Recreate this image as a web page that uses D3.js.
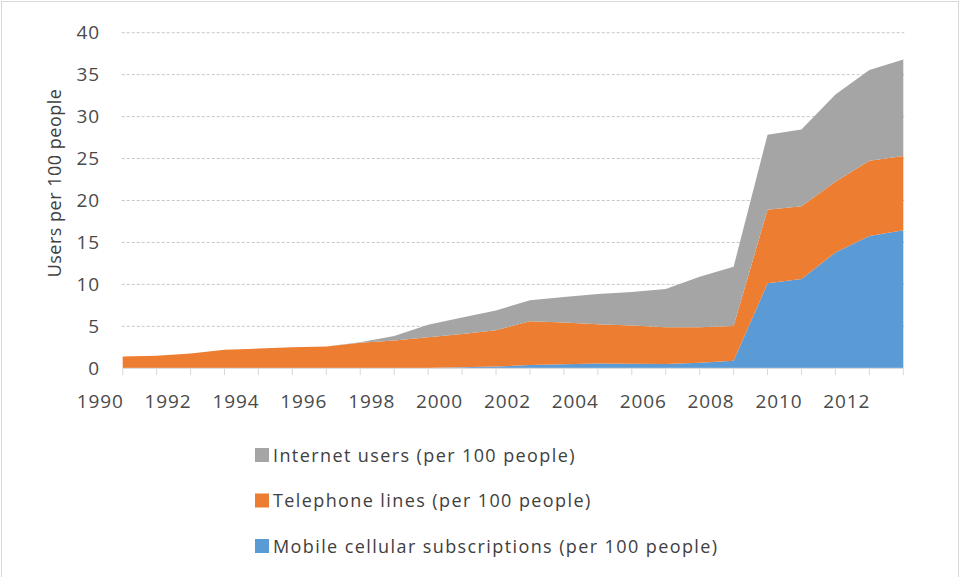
<!DOCTYPE html>
<html>
<head>
<meta charset="utf-8">
<script src="https://cdn.jsdelivr.net/npm/d3@7"></script>
<style>
  html, body { margin: 0; padding: 0; background: #fff; }
  svg text { font-family: "Open Sans", sans-serif; }
</style>
</head>
<body>
<div id="chart"></div>
<script>
const years = [1990, 1991, 1992, 1993, 1994, 1995, 1996, 1997, 1998, 1999, 2000, 2001,
               2002, 2003, 2004, 2005, 2006, 2007, 2008, 2009, 2010, 2011, 2012, 2013];
const mobile = [0, 0, 0, 0, 0, 0, 0, 0, 0.02, 0.05, 0.12, 0.2,
                0.38, 0.47, 0.58, 0.55, 0.52, 0.67, 0.9, 10.13, 10.64, 13.8, 15.77, 16.45];
const telephone = [1.4, 1.5, 1.75, 2.2, 2.35, 2.5, 2.6, 3.05, 3.28, 3.65, 3.98, 4.35,
                   5.22, 4.98, 4.67, 4.55, 4.38, 4.23, 4.15, 8.77, 8.66, 8.44, 8.98, 8.85];
const internet = [0, 0, 0, 0, 0, 0, 0, 0.05, 0.55, 1.5, 1.95, 2.35,
                  2.5, 3.05, 3.6, 4.0, 4.55, 6.0, 7.05, 8.95, 9.15, 10.4, 10.8, 11.5];
const yTicks = [0, 5, 10, 15, 20, 25, 30, 35, 40];
const xLabels = [1990, 1992, 1994, 1996, 1998, 2000, 2002, 2004, 2006, 2008, 2010, 2012];

const seriesNames = {
  mobile: 'Mobile cellular subscriptions (per 100 people)',
  telephone: 'Telephone lines (per 100 people)',
  internet: 'Internet users (per 100 people)'
};
const colors = { mobile: '#5b9bd5', telephone: '#ed7d31', internet: '#a5a5a5' };

const width = 960, height = 577;

const svg = d3.select('#chart').append('svg')
              .attr('width', width)
              .attr('height', height);

svg.append('rect')
   .attr('x', 1.5).attr('y', 1.5)
   .attr('width', width - 3).attr('height', height)
   .attr('fill', '#fff')
   .attr('stroke', '#d9d9d9');

const x = d3.scaleLinear().domain([1990, 2013]).range([122.7, 903.3]);
const y = d3.scaleLinear().domain([0, 40]).range([368.3, 32.7]);

// gridlines
svg.append('g')
   .selectAll('line')
   .data(yTicks.filter(d => d > 0))
   .enter().append('line')
   .attr('x1', x(1990) - 1).attr('x2', x(2013) + 1)
   .attr('y1', d => y(d)).attr('y2', d => y(d))
   .attr('stroke', '#c8c8c8')
   .attr('stroke-width', 1)
   .attr('stroke-dasharray', '3,2');

// stacked areas
const rows = years.map((yr, i) => ({ year: yr, mobile: mobile[i], telephone: telephone[i], internet: internet[i] }));
const stack = d3.stack().keys(['mobile', 'telephone', 'internet']);
const area = d3.area()
               .x(d => x(d.data.year))
               .y0(d => y(d[0]))
               .y1(d => y(d[1]));

svg.append('g')
   .selectAll('path')
   .data(stack(rows))
   .enter().append('path')
   .attr('d', area)
   .attr('fill', d => colors[d.key]);

// x axis
const xAxis = svg.append('g').attr('transform', `translate(0, ${y(0)})`);
xAxis.append('line')
     .attr('x1', x(1990)).attr('x2', x(2013))
     .attr('stroke', '#d9d9d9');
xAxis.selectAll('line.tick')
     .data(years)
     .enter().append('line')
     .attr('class', 'tick')
     .attr('x1', d => x(d)).attr('x2', d => x(d))
     .attr('y1', 0).attr('y2', 7)
     .attr('stroke', '#d9d9d9');
xAxis.selectAll('text')
     .data(xLabels)
     .enter().append('text')
     .attr('x', d => x(d) + 1)
     .attr('y', 40)
     .attr('text-anchor', 'end')
     .attr('font-size', 19)
     .attr('letter-spacing', 0.9)
     .attr('fill', '#4a4a4a')
     .text(d => d);

// y axis labels
svg.append('g')
   .selectAll('text')
   .data(yTicks)
   .enter().append('text')
   .attr('x', 100)
   .attr('y', d => y(d) + 6.5)
   .attr('text-anchor', 'end')
   .attr('font-size', 19)
   .attr('letter-spacing', 0.9)
   .attr('fill', '#4a4a4a')
   .text(d => d);

svg.append('text')
   .attr('transform', `translate(61, 183) rotate(-90)`)
   .attr('text-anchor', 'middle')
   .attr('font-size', 18)
   .attr('letter-spacing', 0.5)
   .attr('fill', '#404040')
   .text('Users per 100 people');

// legend
const legendKeys = ['internet', 'telephone', 'mobile'];
const legend = svg.append('g')
                  .selectAll('g')
                  .data(legendKeys)
                  .enter().append('g')
                  .attr('transform', (d, i) => `translate(255, ${455 + i * 45.5})`);
legend.append('rect')
      .attr('x', 0).attr('y', -7)
      .attr('width', 14).attr('height', 14)
      .attr('fill', d => colors[d]);
legend.append('text')
      .attr('x', 18)
      .attr('y', 6.5)
      .attr('font-size', 18)
      .attr('letter-spacing', 1.4)
      .attr('fill', '#404040')
      .text(d => seriesNames[d]);
</script>
</body>
</html>
